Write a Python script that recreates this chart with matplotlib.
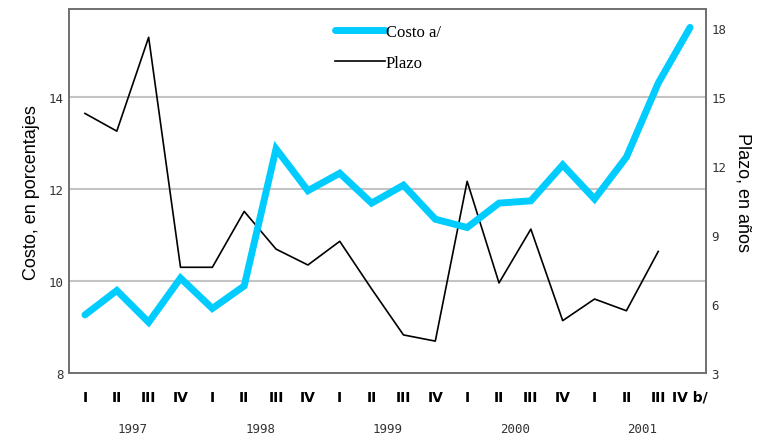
import matplotlib
matplotlib.use("Agg")
import matplotlib.pyplot as plt
import numpy as np

# quarterly data, 1997-I .. 2001-IV
quarters = ['I', 'II', 'III', 'IV'] * 4 + ['I', 'II', 'III', 'IV b/']
years = ['1997', '1998', '1999', '2000', '2001']
costo = [9.27, 9.80, 9.11, 10.07, 9.41, 9.90, 12.88, 11.97, 12.35, 11.70,
         12.09, 11.35, 11.17, 11.70, 11.75, 12.53, 11.79, 12.70, 14.31, 15.52]
plazo = [14.30, 13.53, 17.61, 7.61, 7.61, 10.04, 8.40, 7.71, 8.74, 6.67,
         4.67, 4.40, 11.35, 6.93, 9.27, 5.29, 6.23, 5.72, 8.30, np.nan]

x = np.arange(len(quarters))
mono = 'DejaVu Sans Mono'

fig = plt.figure(figsize=(7.67, 4.35), dpi=100)
ax = fig.add_axes([0.09, 0.1395, 0.8305, 0.8375])
ax2 = ax.twinx()

ax.set_zorder(1)
ax.patch.set_visible(False)
for y in [10, 12, 14]:
    ax2.axhline(3 + 2 * (y - 8), color='#c4c4c4', lw=1.5, zorder=0)

l1, = ax.plot(x, costo, color='#00ccff', lw=5, solid_capstyle='round',
              solid_joinstyle='miter', label='Costo a/')
l2, = ax2.plot(x, plazo, color='black', lw=1.2, label='Plazo')

ax.set_xlim(-0.5, 19.5)
ax.set_ylim(8, 15.92)
ax2.set_ylim(3, 18.84)
ax.set_yticks([8, 10, 12, 14])
ax2.set_yticks([3, 6, 9, 12, 15, 18])

for a in (ax, ax2):
    for s in a.spines.values():
        s.set_color('#707070')
        s.set_linewidth(1.2)
    a.tick_params(axis='y', length=0, labelsize=9, labelcolor='#333333', pad=4)
    for t in a.get_yticklabels():
        t.set_fontfamily(mono)

ax.set_xticks(x)
ax.set_xticklabels(quarters, fontweight='bold', fontsize=10, fontfamily='Liberation Sans Narrow')
ax.tick_params(axis='x', length=0, pad=12)
ax2.tick_params(axis='x', length=0)

for i, yr in enumerate(years):
    ax.text(i * 4 + 1.5, -0.152, yr, transform=ax.get_xaxis_transform(),
            ha='center', va='center', fontsize=9, fontfamily=mono, color='#333333')

ax.set_ylabel('Costo, en porcentajes', fontsize=13, fontfamily='Liberation Sans', labelpad=6)
ax2.set_ylabel('Plazo, en años', fontsize=13, fontfamily='Liberation Sans',
               rotation=270, labelpad=18)

leg = ax.legend([l1, l2], ['Costo a/', 'Plazo'], loc='upper left',
                bbox_to_anchor=(0.4176, 0.958), frameon=False, borderpad=0,
                borderaxespad=0, handlelength=3.0, handletextpad=0.05,
                labelspacing=0.9, prop={'family': 'Liberation Serif', 'size': 12})

fig.savefig('out.png', dpi=100)
